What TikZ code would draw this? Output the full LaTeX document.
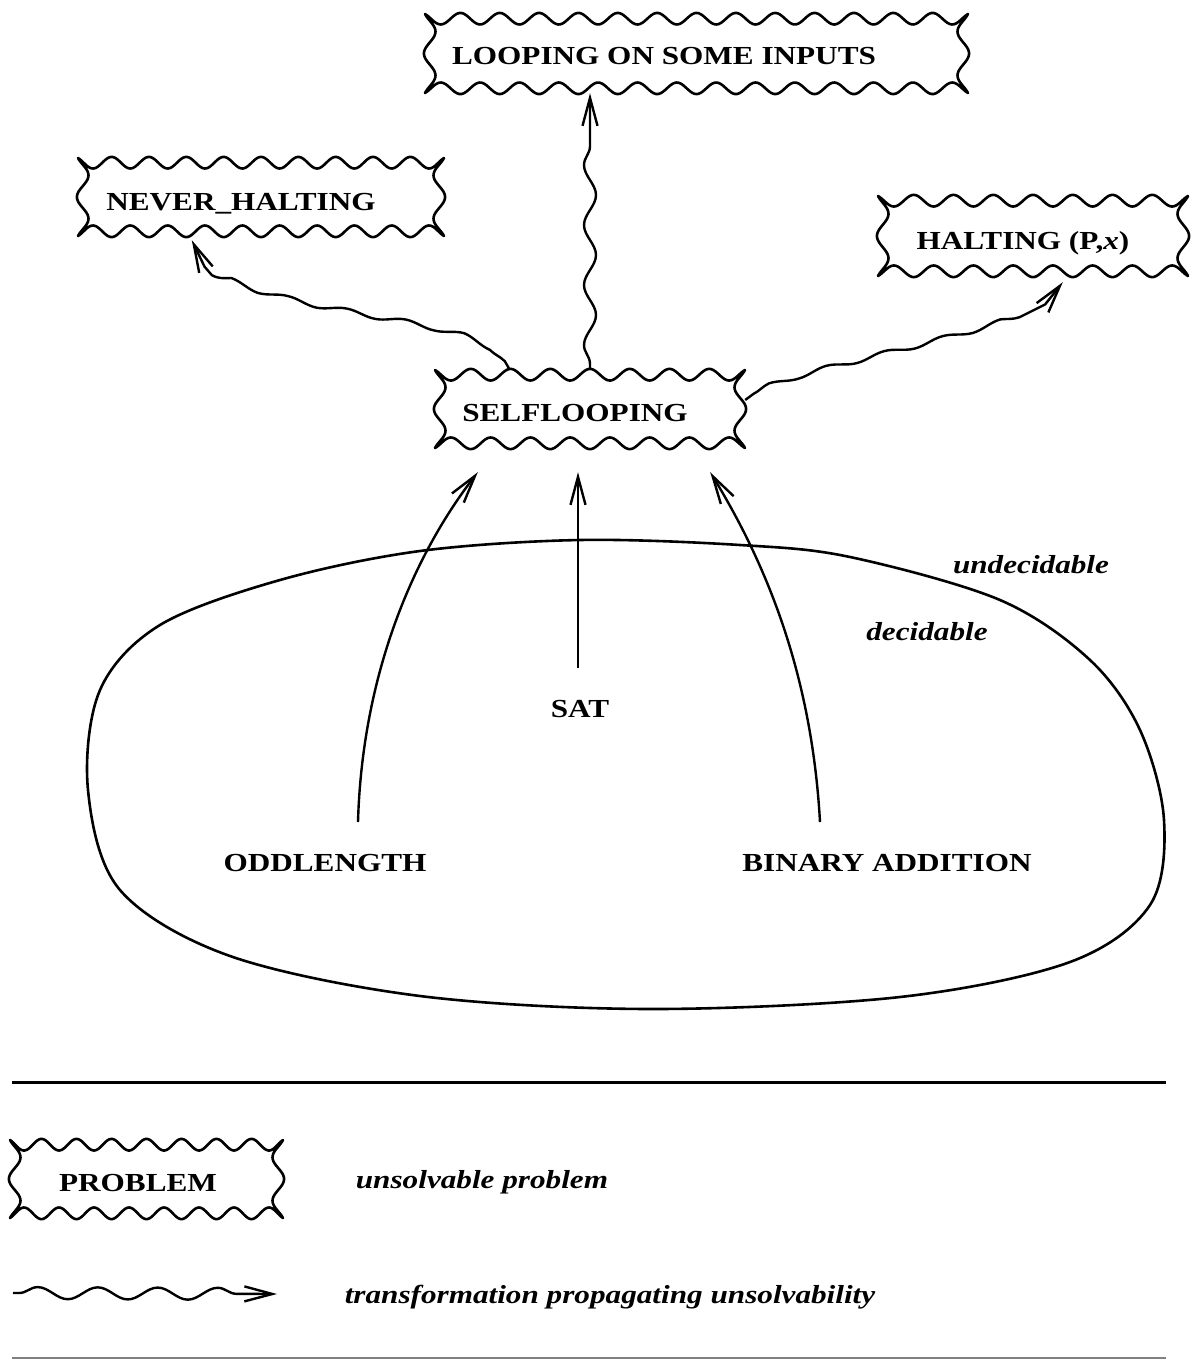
\documentclass[tikz,border=0pt]{standalone}
\usepackage{fontspec}
\setmainfont{Liberation Serif}[FakeStretch=1.2]
\usepackage{tikz}
\usetikzlibrary{arrows.meta,calc,fit,decorations.pathmorphing}
\newcommand\wavamp{5.8}
\newcommand\wavoff{4.7}
\tikzset{
  prob/.style     ={font=\fontsize{26}{30}\selectfont\bfseries,inner sep=0pt},
  region/.style   ={font=\fontsize{26}{30}\selectfont\bfseries\itshape,inner sep=0pt},
  wavyline/.style ={line width=2.6pt,line join=round},
  reduce/.style   ={-{Straight Barb[length=28pt,width=15pt]},line width=2.4pt},
  propagate/.style={-{Straight Barb[length=28pt,width=15pt]},line width=2.4pt,decorate,
                    decoration={snake,amplitude=6pt,segment length=60pt,pre length=6pt,post length=30pt}},
  bump/.style     ={-{Straight Barb[length=28pt,width=15pt]},line width=2.4pt,decorate,
                    decoration={snake,amplitude=2.5pt,segment length=60pt,pre length=10pt,post length=30pt}}
}
\newcommand\wavybox[7]{%
  \coordinate (#1-nw) at (#2,#3);
  \coordinate (#1-se) at (#4,#5);
  \node[fit=(#1-nw)(#1-se),inner sep=0pt] (#1) {};
  \draw[wavyline]
    plot[variable=\t,domain=0:1,samples=241] ({#2+\t*(#4-#2)},{#3+\wavoff-\wavamp*cos(360*#6*(\t-0.5))})
    -- plot[variable=\t,domain=0:1,samples=41] ({#4-\wavoff+\wavamp*cos(360*#7*(\t-0.5))},{#3+\t*(#5-#3)})
    -- plot[variable=\t,domain=0:1,samples=241] ({#4-\t*(#4-#2)},{#5-\wavoff+\wavamp*cos(360*#6*(\t-0.5))})
    -- plot[variable=\t,domain=0:1,samples=41] ({#2+\wavoff-\wavamp*cos(360*#7*(\t-0.5))},{#5-\t*(#5-#3)})
    -- cycle;
}
\begin{document}
\begin{tikzpicture}[x=1pt,y=-1pt]
  \useasboundingbox (0,0) rectangle (1193,1360);
  \wavybox{loop}{425}{14}{968}{93}{13.8}{1.8}
  \node[prob,anchor=base] (looptxt) at (664,64) {LOOPING ON SOME INPUTS};
  \wavybox{never}{78}{158}{444}{236}{9.8}{1.8}
  \node[prob,anchor=base] (nevertxt) at (241,210) {NEVER\_HALTING};
  \wavybox{halt}{878}{196}{1188}{276}{7.8}{1.8}
  \node[prob,anchor=base] (halttxt) at (1023,249) {HALTING (P,\textit{x})};
  \wavybox{self}{435}{370}{745}{448}{7.8}{1.8}
  \node[prob,anchor=base] (selftxt) at (575,421) {SELFLOOPING};

  \draw[line width=2.6pt] plot[smooth cycle,tension=0.55] coordinates {(580,540) (740,545) (850,557)
    (1000,600) (1090,660) (1140,730) (1164,820) (1150,905) (1070,962) (900,997) (650,1009) (420,996)
    (230,956) (120,890) (88,790) (100,690) (160,625) (280,580) (420,551)};
  \node[region,anchor=base] (undec) at (1031,573) {undecidable};
  \node[region,anchor=base] (dec) at (927,640) {decidable};
  \node[prob,anchor=base] (sat) at (580,717) {SAT};
  \node[prob,anchor=base] (odd) at (325,871) {ODDLENGTH};
  \node[prob,anchor=base] (bin) at (887,871) {BINARY ADDITION};

  \draw[reduce] ($(odd.base)+(33,-49)$) .. controls (362,680) and (410,560) .. ($(self.south west)+(43,24)$);
  \draw[reduce] ($(sat.base)+(-2,-49)$) -- ($(self.south)+(-12,24)$);
  \draw[reduce] ($(bin.base)+(-67,-49)$) .. controls (812,680) and (770,570) .. ($(self.south east)+(-35,24)$);
  \draw[propagate] (self.north) -- (self.north |- loop.south);
  \draw[bump] ($(self.north west)+(75,0)$) .. controls (500,320) and (200,330) .. ($(never.south west)+(114,4)$);
  \draw[bump] ($(self.east)+(0,-9)$) .. controls (760,375) and (1070,330) .. ($(halt.south west)+(185,6)$);

  \draw[line width=3pt] (12,1082) -- (1166,1082);
  \wavybox{legbox}{10}{1140}{283}{1218}{7.8}{1.8}
  \node[prob,anchor=base] (legtxt) at (138,1191) {PROBLEM};
  \node[region,anchor=base] (legprob) at (482,1188) {unsolvable problem};
  \coordinate (lgs) at (13,1293);
  \coordinate (lge) at (277,1294);
  \draw[propagate] (lgs) -- (lge);
  \node[region,anchor=base] (legprop) at (610,1303) {transformation propagating unsolvability};
  \draw[line width=1.5pt,gray] (12,1358) -- (1166,1358);
\end{tikzpicture}
\end{document}
